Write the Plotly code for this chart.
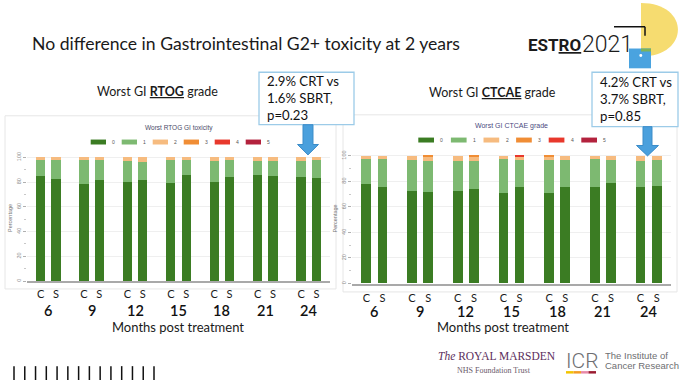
import plotly.graph_objects as go

W, H = 680, 381


def px(x):
    return x / W


def py(y):
    return 1 - y / H


# ---------------- data ----------------
months = [6, 9, 12, 15, 18, 21, 24]
arm_labels = ["C", "S"]
grades = ["0", "1", "2", "3", "4", "5"]
grade_colors = ["#3b7c23", "#7db971", "#f6bb7f", "#f08d35", "#e8382c", "#b3223d"]

# RTOG (percentage of patients by worst grade), CRT arm
rtog_crt_g0 = [85.4, 78.4, 80.5, 79.2, 80.3, 85.9, 84.0]
rtog_crt_g1 = [13.2, 19.2, 16.3, 18.7, 16.7, 11.1, 13.1]
rtog_crt_g2 = [1.4, 2.4, 3.2, 2.1, 3.0, 3.0, 2.9]
rtog_crt_g3 = [0, 0, 0, 0, 0, 0, 0]
rtog_crt_g4 = [0, 0, 0, 0, 0, 0, 0]
rtog_crt_g5 = [0, 0, 0, 0, 0, 0, 0]
# RTOG, SBRT arm
rtog_sbrt_g0 = [83.0, 81.6, 81.9, 85.6, 84.3, 85.4, 83.5]
rtog_sbrt_g1 = [14.6, 16.2, 14.4, 12.3, 13.6, 11.9, 14.9]
rtog_sbrt_g2 = [2.4, 2.2, 3.7, 2.1, 2.1, 2.7, 1.6]
rtog_sbrt_g3 = [0, 0, 0, 0, 0, 0, 0]
rtog_sbrt_g4 = [0, 0, 0, 0, 0, 0, 0]
rtog_sbrt_g5 = [0, 0, 0, 0, 0, 0, 0]

# CTCAE, CRT arm
ctcae_crt_g0 = [78.1, 72.5, 71.9, 70.7, 70.9, 75.6, 75.0]
ctcae_crt_g1 = [19.4, 24.0, 24.1, 26.6, 25.6, 21.4, 20.8]
ctcae_crt_g2 = [2.5, 3.5, 4.0, 2.7, 3.0, 3.0, 4.2]
ctcae_crt_g3 = [0, 0, 0, 0, 0.5, 0, 0]
ctcae_crt_g4 = [0, 0, 0, 0, 0, 0, 0]
ctcae_crt_g5 = [0, 0, 0, 0, 0, 0, 0]
# CTCAE, SBRT arm
ctcae_sbrt_g0 = [75.6, 71.2, 74.0, 75.6, 75.6, 78.4, 75.8]
ctcae_sbrt_g1 = [21.7, 24.5, 21.7, 20.9, 20.6, 18.1, 20.5]
ctcae_sbrt_g2 = [2.7, 3.5, 3.5, 2.5, 3.8, 3.5, 3.7]
ctcae_sbrt_g3 = [0, 0.8, 0.8, 0.6, 0, 0, 0]
ctcae_sbrt_g4 = [0, 0, 0, 0.4, 0, 0, 0]
ctcae_sbrt_g5 = [0, 0, 0, 0, 0, 0, 0]

rtog_title = "Worst RTOG GI toxicity"
ctcae_title = "Worst GI CTCAE grade"
box_left_lines = ["2.9% CRT vs", "1.6% SBRT,", "p=0.23"]
box_right_lines = ["4.2% CRT vs", "3.7% SBRT,", "p=0.85"]

# ---------------- styling / layout constants ----------------
ARM_OFF = 0.53
BAR_W = 0.64
SLIDE_FONT = "Lato, Open Sans, sans-serif"
CHART_FONT = "Liberation Sans, Arial, sans-serif"

rtog_crt = [rtog_crt_g0, rtog_crt_g1, rtog_crt_g2, rtog_crt_g3, rtog_crt_g4, rtog_crt_g5]
rtog_sbrt = [rtog_sbrt_g0, rtog_sbrt_g1, rtog_sbrt_g2, rtog_sbrt_g3, rtog_sbrt_g4, rtog_sbrt_g5]
ctcae_crt = [ctcae_crt_g0, ctcae_crt_g1, ctcae_crt_g2, ctcae_crt_g3, ctcae_crt_g4, ctcae_crt_g5]
ctcae_sbrt = [ctcae_sbrt_g0, ctcae_sbrt_g1, ctcae_sbrt_g2, ctcae_sbrt_g3, ctcae_sbrt_g4, ctcae_sbrt_g5]

x_crt = [m - ARM_OFF for m in months]
x_sbrt = [m + ARM_OFF for m in months]

fig = go.Figure()

charts = [
    dict(crt=rtog_crt, sbrt=rtog_sbrt, xa="x", ya="y"),
    dict(crt=ctcae_crt, sbrt=ctcae_sbrt, xa="x2", ya="y2"),
]
for ch in charts:
    for gi, g in enumerate(grades):
        fig.add_trace(go.Bar(
            x=x_crt + x_sbrt,
            y=ch["crt"][gi] + ch["sbrt"][gi],
            width=BAR_W,
            name=g,
            marker=dict(color=grade_colors[gi], line=dict(width=0)),
            xaxis=ch["xa"], yaxis=ch["ya"],
            showlegend=False,
            hoverinfo="skip",
        ))

tick_pos = []
tick_txt = []
for a, b in zip(x_crt, x_sbrt):
    tick_pos += [a, b]
    tick_txt += arm_labels

common_x = dict(
    range=[4.53, 25.47], tickmode="array", tickvals=tick_pos, ticktext=tick_txt,
    tickfont=dict(family=SLIDE_FONT, size=11, color="#1a1a1a"),
    showline=True, linecolor="#a9a9a9", linewidth=1.5, showgrid=False,
    zeroline=False, ticks="", fixedrange=True,
)
common_y = dict(
    range=[0, 102], tickmode="array", tickvals=[0, 20, 40, 60, 80, 100],
    tickangle=-90, tickfont=dict(family=CHART_FONT, size=5.5, color="#8a8a8a"),
    ticks="outside", ticklen=3, tickcolor="#b0b0b0", tickwidth=1,
    minor=dict(ticks="outside", ticklen=2, tickcolor="#c8c8c8", dtick=10, showgrid=False),
    showgrid=True, gridcolor="#efefef", gridwidth=1, zeroline=False,
    showline=False, fixedrange=True,
    title=dict(text="Percentage", font=dict(family=CHART_FONT, size=5.5, color="#777"), standoff=2),
)

fig.update_layout(
    width=W, height=H, autosize=False,
    margin=dict(l=0, r=0, t=0, b=0),
    paper_bgcolor="white", plot_bgcolor="white",
    barmode="stack", bargap=0,
    showlegend=False,
    xaxis=dict(domain=[px(27), px(330)], anchor="y", ticklabelstandoff=2, **common_x),
    yaxis=dict(domain=[py(281), py(281 - 102 * 1.25)], anchor="x", **common_y),
    xaxis2=dict(domain=[px(352), px(671)], anchor="y2", ticklabelstandoff=4, **common_x),
    yaxis2=dict(domain=[py(283.5), py(283.5 - 102 * 1.29)], anchor="x2", **common_y),
)

shapes = []
ann = []


def text(x, y, s, size, color="#1a1a1a", family=SLIDE_FONT, xanchor="center", weight=None,
         align="center"):
    f = dict(family=family, size=size, color=color)
    if weight:
        f["weight"] = weight
    ann.append(dict(
        x=px(x), y=py(y), xref="paper", yref="paper",
        text=s, showarrow=False, xanchor=xanchor, yanchor="middle", font=f, align=align,
    ))


def rect(x0, y0, x1, y1, fill=None, line=None, lw=1, layer="below"):
    shapes.append(dict(
        type="rect", xref="paper", yref="paper",
        x0=px(x0), x1=px(x1), y0=py(y1), y1=py(y0),
        fillcolor=fill if fill else "rgba(0,0,0,0)",
        line=dict(color=line if line else "rgba(0,0,0,0)", width=lw if line else 0),
        layer=layer,
    ))


def path(pts, fill, line=None, lw=1):
    d = "M " + " L ".join(f"{px(x):.5f},{py(y):.5f}" for x, y in pts) + " Z"
    shapes.append(dict(
        type="path", xref="paper", yref="paper", path=d,
        fillcolor=fill, line=dict(color=line or "rgba(0,0,0,0)", width=lw if line else 0),
        layer="above",
    ))


# panel frames
rect(5, 114, 336, 289, line="#e6e6e6", lw=1)
rect(343, 113, 677, 292, line="#e6e6e6", lw=1)

# slide title
text(30, 41, "No difference in Gastrointestinal G2+ toxicity at 2 years", 17.6, "#1a1a1a", xanchor="left")

# subtitles
text(157, 89, "Worst GI <b><u>RTOG</u></b> grade", 12.5)
text(492, 90, "Worst GI <b><u>CTCAE</u></b> grade", 12.5)

# inner chart titles
text(179, 126, rtog_title, 6.5, "#4a4a68", family=CHART_FONT)
text(511, 124, ctcae_title, 7, "#4a4a80", family=CHART_FONT)

# legends
for i, g in enumerate(grades):
    x0 = 90.7 + 31.0 * i
    rect(x0, 138, x0 + 15.3, 143, fill=grade_colors[i])
    text(x0 + 19.5, 140.5, g, 5, "#555", family=CHART_FONT, xanchor="left")
    x0 = 418.3 + 32.6 * i
    rect(x0, 136, x0 + 15.7, 141, fill=grade_colors[i])
    text(x0 + 20, 138.5, g, 5, "#555", family=CHART_FONT, xanchor="left")

# month numbers and axis titles
for m in months:
    ann.append(dict(x=m, y=py(311), xref="x", yref="paper", text=str(m), showarrow=False,
                    xanchor="center", yanchor="middle",
                    font=dict(family=SLIDE_FONT, size=14.5, color="#111", weight=600)))
    ann.append(dict(x=m, y=py(312), xref="x2", yref="paper", text=str(m), showarrow=False,
                    xanchor="center", yanchor="middle",
                    font=dict(family=SLIDE_FONT, size=14.5, color="#111", weight=600)))
text(178, 327, "Months post treatment", 13)
text(503, 327, "Months post treatment", 13)

# callout boxes
rect(259, 70, 354, 123, fill="white", line="#9ccbe8", lw=1.3, layer="above")
rect(592, 70, 678, 125, fill="white", line="#9ccbe8", lw=1.3, layer="above")
text(265, 96.5, "<br>".join(box_left_lines), 13.2, "#111", xanchor="left", align="left")
text(598, 97.5, "<br>".join(box_right_lines), 13.2, "#111", xanchor="left", align="left")

# arrows
path([(303, 123), (313, 123), (313, 143), (318.5, 143), (308, 153.5), (297.5, 143), (303, 143)],
     "#4aa0dd", line="#3b8cc9", lw=1)
path([(643, 125), (652, 125), (652, 144), (658.5, 144), (647.5, 154.5), (636.5, 144), (643, 144)],
     "#4aa0dd", line="#3b8cc9", lw=1)

# ESTRO 2021 logo
rx, ry = 37, 27
cx, cy = 641, 27
k = 1.33
shapes.append(dict(
    type="path", xref="paper", yref="paper", layer="below",
    path=(f"M {px(cx):.5f},{py(cy - ry):.5f} "
          f"C {px(cx + k * rx):.5f},{py(cy - ry):.5f} {px(cx + k * rx):.5f},{py(cy + ry):.5f} "
          f"{px(cx):.5f},{py(cy + ry):.5f} Z"),
    fillcolor="#f6dc70", line=dict(width=0),
))
rect(629, 46, 651, 66, fill="#4aa3df")
rect(641, 46, 651, 49, fill="#7db35a")
shapes.append(dict(type="line", xref="paper", yref="paper", x0=px(614), x1=px(645), y0=py(24), y1=py(24),
                   line=dict(color="#111", width=1.5)))
shapes.append(dict(type="line", xref="paper", yref="paper", x0=px(645), x1=px(645), y0=py(24), y1=py(33),
                   line=dict(color="#111", width=1.5)))
shapes.append(dict(type="circle", xref="paper", yref="paper", x0=px(639.3), x1=px(642.3), y0=py(54.5), y1=py(51.5),
                   fillcolor="white", line=dict(width=0)))
text(526, 42, "<b>EST<u>RO</u></b>", 17, "#1b1b1b", family="Roboto, sans-serif", xanchor="left")
text(580, 42, "2021", 23, "#1b1b1b", family="Roboto, sans-serif", xanchor="left", weight=300)

# bottom-left tick marks
for j in range(14):
    xx = 14 + j * (140 / 13)
    shapes.append(dict(type="line", xref="paper", yref="paper", x0=px(xx), x1=px(xx), y0=py(367), y1=py(381),
                       line=dict(color="#111", width=1.5)))

# partner logos
text(436, 357, "<i>The</i> ROYAL MARSDEN", 11.5, "#5b2e5c", family="Liberation Serif, serif", xanchor="left")
text(455, 371.5, "NHS Foundation Trust", 8, "#6a5a6a", family="Liberation Serif, serif", xanchor="left")
text(564, 362, "ICR", 21, "#6d6e71", family="Roboto, sans-serif", xanchor="left", weight=300)
text(603, 356, "The Institute of", 9.5, "#6d6e71", family="Liberation Sans, Arial, sans-serif", xanchor="left")
text(603, 366, "Cancer Research", 9.5, "#6d6e71", family="Liberation Sans, Arial, sans-serif", xanchor="left")
for j, c in enumerate(["#f2c400", "#f39c22", "#e889a8", "#9b1b30"]):
    rect(566 + j * 7.5, 372, 566 + (j + 1) * 7.5, 374.5, fill=c)

fig.update_layout(shapes=shapes, annotations=ann)
fig.write_html("out.html")
